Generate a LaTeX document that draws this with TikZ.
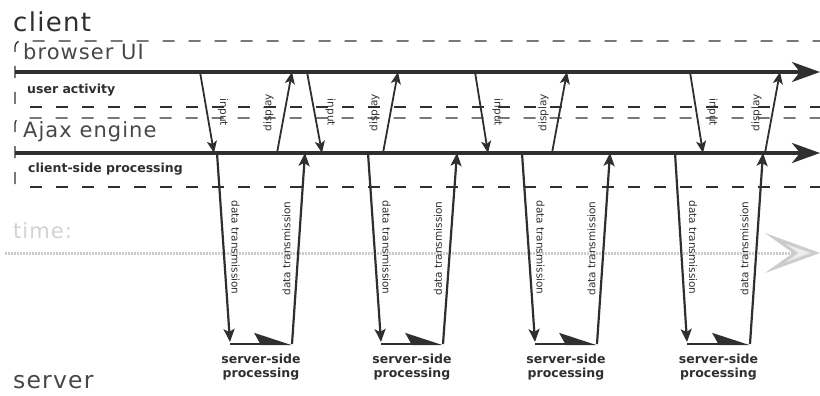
\documentclass[tikz,border=0pt]{standalone}
\usepackage{fontspec}
\setmainfont{DejaVu Sans}
\newfontfamily\lanefont[LetterSpace=5]{DejaVu Sans}
\usetikzlibrary{arrows.meta}
\definecolor{ink}{HTML}{2F2F2F}
\definecolor{lanegray}{HTML}{474747}

\begin{document}
\begin{tikzpicture}[
  x=1pt, y=-1pt,
  lane/.style={draw=ink, line width=1.3pt, dash pattern=on 12pt off 14pt, rounded corners=6pt},
  axis/.style={draw=ink, line width=3.5pt, -{Stealth[length=28pt,width=20pt,inset=8pt]}},
  msg/.style={draw=ink, line width=1.8pt, -{Stealth[length=12pt,width=10pt,inset=3pt]}},
  trans/.style={draw=ink, line width=2.2pt, -{Stealth[length=13pt,width=11pt,inset=3pt]}},
  proc/.style={draw=ink, line width=2.4pt, -{Stealth[left,length=34pt,width=22pt,inset=6pt]}},
  timeline/.style={draw=gray!40, line width=3pt, dash pattern=on 1.5pt off 1.5pt,
    -{Stealth[length=55pt,width=40pt,inset=28pt,fill=gray!15]}},
  lanename/.style={anchor=base west, inner sep=0pt, text=lanegray, font=\lanefont\fontsize{21}{21}\selectfont},
  tag/.style={anchor=base west, inner sep=0pt, text=ink, font=\bfseries\fontsize{12.5}{12.5}\selectfont},
  vlabel/.style={anchor=south, inner sep=0pt, outer sep=8pt, text=ink, font=\fontsize{10.5}{10.5}\selectfont},
  servertag/.style={anchor=north, align=center, inner sep=0pt, text=ink, font=\bfseries\fontsize{12.5}{13.5}\selectfont}
]
\useasboundingbox (0,0) rectangle (820,396);

\node[lanename, text=ink, font=\lanefont\fontsize{26}{26}\selectfont] (client) at (13,32) {client};
\node[lanename] (browser) at (23,60) {browser UI};
\node[tag] (useract) at (27,93) {user activity};
\node[lanename] (ajax) at (23,138) {Ajax engine};
\node[tag] (clientproc) at (28,172) {client-side processing};
\node[lanename, text=gray!35] (time) at (13,238) {time:};
\node[lanename, font=\lanefont\fontsize{23.5}{23.5}\selectfont] (server) at (13,388) {server};

% lanes
\path[lane] (15,104) |- (820,41);
\path[lane] (30,107) -- (820,107);
\path[lane] (15,184) |- (820,118);
\path[lane] (30,187) -- (820,187);

\coordinate (t0) at (5,253);
\coordinate (t1) at (820,253);
\draw[timeline] (t0) -- (t1);

\coordinate (ui0) at (15,72);
\coordinate (ui1) at (820,72);
\coordinate (eng0) at (15,153);
\coordinate (eng1) at (820,153);
\draw[axis] (ui0) -- (ui1);
\draw[axis] (eng0) -- (eng1);

% request / response cycles
\foreach \n/\pa/\pb/\pc/\pd/\pe/\pf/\pg/\ph in {%
  1/200/214/277/292/217/230/292/305,
  2/307/322/383/398/368/381/443/457,
  3/475/488/552/567/522/535/597/610,
  4/690/703/765/780/675/687/750/763}{
  \coordinate (in\n) at (\pa,72);
  \coordinate (ine\n) at (\pb,153);
  \coordinate (dis\n) at (\pc,153);
  \coordinate (disu\n) at (\pd,72);
  \coordinate (req\n) at (\pe,153);
  \coordinate (reqs\n) at (\pf,342);
  \coordinate (sp\n) at (\pf,344);
  \coordinate (spe\n) at (\pg,344);
  \coordinate (resp\n) at (\ph,153);
  \draw[msg] (in\n) -- node[vlabel, rotate=-90, outer sep=11pt] (inl\n) {input} (ine\n);
  \draw[msg] (dis\n) -- node[vlabel, rotate=90, outer sep=11pt] (disl\n) {display} (disu\n);
  \draw[trans] (req\n) -- node[vlabel, rotate=-90] (reql\n) {data transmission} (reqs\n);
  \draw[proc] (sp\n) -- node[servertag, below=9pt] (ssp\n) {server-side\\processing} (spe\n);
  \draw[trans] (spe\n) -- node[vlabel, rotate=90] (respl\n) {data transmission} (resp\n);
}
\end{tikzpicture}
\end{document}
